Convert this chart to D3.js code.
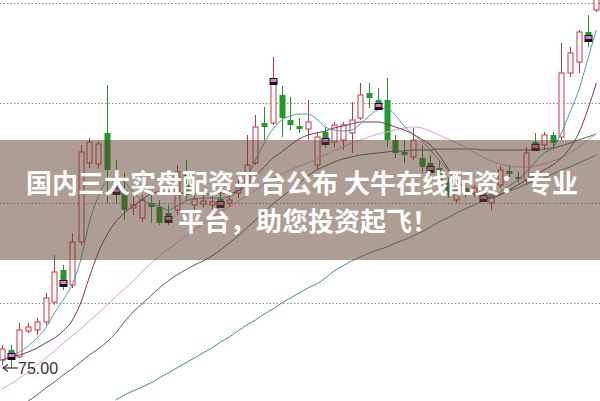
<!DOCTYPE html>
<html><head><meta charset="utf-8">
<script src="https://cdn.jsdelivr.net/npm/d3@7"></script>
<style>html,body{margin:0;padding:0;background:#fff;overflow:hidden}</style>
</head><body><svg id="c" width="600" height="401"></svg>
<script>
// ---- data (prices) ----
const openP  = [75.8,76.8,76.1,78.7,78.8,79.6,81.6,84.8,83.3,87.6,95.5,95.4,98.5,93.3,92.8,91.0,90.0,91.5,91.1,90.5,90.8,94.3,91.3,91.4,91.3,91.9,91.5,92.5,93.3,95.5,99.5,99.5,102.3,99.8,99.2,98.9,95.3,98.6,97.6,97.8,98.5,100.0,102.5,101.8,101.8,97.8,96.6,96.1,96.0,95.5,95.0,93.6,91.8,93.0,92.5,92.5,91.5,93.3,94.7,94.1,93.8,97.6,97.3,98.3,98.1,104.5,105.6,108.6,110.8];
const highP  = [77.3,77.3,79.5,79.5,80.0,82.5,86.3,85.3,88.5,97.3,98.0,97.7,103.3,95.8,94.5,92.1,92.3,92.3,91.8,91.3,95.3,95.8,92.3,92.5,92.3,92.6,92.8,93.8,98.3,100.3,101.1,106.1,103.2,102.1,100.0,101.8,98.6,99.1,99.6,99.6,101.6,103.5,103.5,103.0,104.0,98.3,97.8,99.0,97.3,96.3,95.8,94.1,93.1,93.5,93.3,92.8,92.8,95.2,95.3,94.6,97.1,98.5,98.6,98.6,107.5,107.1,108.8,110.3,113.3];
const lowP   = [75.3,75.0,76.0,78.5,78.3,79.3,81.3,82.8,83.0,87.3,95.0,94.9,91.5,91.5,89.8,90.3,89.6,89.5,89.3,89.3,90.3,91.8,90.8,91.0,90.8,91.1,91.1,92.0,92.8,95.3,97.8,99.3,98.1,98.8,98.5,97.8,94.8,97.0,97.1,96.8,96.5,99.8,101.0,101.0,97.1,96.0,95.5,95.8,94.5,94.3,93.3,92.0,91.5,92.0,92.1,91.6,90.8,93.0,94.1,93.5,93.3,96.8,96.8,96.8,97.8,104.1,104.5,107.1,110.6];
const closeP = [76.9,76.3,78.8,79.1,79.6,82.0,84.6,83.6,87.6,96.6,97.6,97.4,94.8,92.8,90.8,91.3,91.8,91.1,89.5,90.0,94.6,92.3,91.9,91.7,91.6,91.5,91.8,93.3,95.3,99.1,99.1,103.8,100.0,99.3,98.9,99.6,98.1,97.8,99.3,99.3,99.8,102.3,102.0,101.3,97.8,96.5,96.3,97.8,95.1,95.0,93.8,92.3,92.8,92.6,93.0,92.1,92.3,94.8,94.4,93.9,96.5,97.2,98.3,97.5,104.5,106.5,108.6,108.1,112.3];
const markerIdx = [1,7,13,19,25,31,37,43,49,55,61,67];

const ma5  = [75.6,76.2,76.6,77.2,78.0,79.0,80.5,81.8,83.3,85.8,89.6,92.1,93.7,94.1,93.6,92.6,91.8,91.4,91.2,90.8,91.2,91.7,91.9,92.0,92.0,92.0,92.1,92.8,94.0,95.8,97.5,98.9,99.8,100.2,100.4,100.4,99.9,99.1,98.8,98.7,98.8,99.4,100.2,100.8,101.0,100.3,99.2,98.4,97.7,96.8,95.8,94.8,93.8,93.1,92.6,92.3,92.2,92.6,93.2,93.8,94.6,95.6,96.5,97.0,98.5,100.6,102.8,105.8,108.8];
const ma10 = [75.8,76.1,76.3,76.6,77.0,77.5,78.0,78.7,79.7,81.5,84.1,86.5,88.3,89.6,90.5,91.2,91.8,92.4,92.6,92.6,92.5,92.5,92.4,92.4,92.4,92.5,92.5,92.7,93.3,94.2,95.1,96.0,96.6,97.3,97.9,98.3,98.5,98.7,99.0,99.2,99.4,99.6,99.6,99.6,99.4,99.1,98.8,98.4,97.9,97.3,96.3,95.0,93.8,92.9,92.4,92.1,92.0,92.3,92.8,93.3,93.8,94.3,94.8,95.3,96.0,97.0,98.5,100.8,103.5];
const ma20 = [72.9,73.4,74.0,74.6,75.3,76.0,76.7,77.5,78.2,78.9,79.7,80.5,81.3,82.1,82.9,83.7,84.6,85.4,86.2,86.9,87.5,88.2,88.8,89.4,90.0,90.6,91.1,91.7,92.2,92.8,93.4,94.0,94.4,94.8,95.2,95.5,95.9,96.3,96.7,97.1,97.5,97.8,98.1,98.4,98.6,98.8,99.0,99.1,99.0,98.7,98.3,97.9,97.5,97.1,96.6,96.1,95.7,95.4,95.2,95.1,95.1,95.2,95.4,95.7,96.0,96.5,97.1,97.8,98.4];
const ma30 = [null,null,null,71.7,72.3,73.0,73.6,74.3,74.9,75.6,76.3,76.9,77.6,78.5,79.6,80.6,81.4,82.2,83.0,83.7,84.3,84.8,85.3,85.7,86.2,86.8,87.5,88.2,89.0,89.8,90.6,91.4,92.1,92.8,93.5,94.2,94.8,95.2,95.6,95.9,96.1,96.3,96.4,96.5,96.6,96.7,96.7,96.8,96.8,96.8,96.9,96.9,96.9,96.9,96.9,96.8,96.8,96.8,96.8,96.8,96.8,96.8,96.9,97.0,97.2,97.5,97.8,98.1,98.4];
const ma60 = [null,null,null,null,null,null,null,null,null,null,null,null,null,71.8,72.3,72.7,73.1,73.5,74.0,74.5,75.0,75.5,76.0,76.5,77.0,77.6,78.1,78.7,79.3,79.8,80.4,80.9,81.5,82.0,82.5,83.0,83.4,84.0,84.7,85.2,85.7,86.1,86.5,86.8,87.1,87.5,87.8,88.2,88.6,89.1,89.6,90.0,90.5,90.9,91.3,91.7,92.1,92.4,92.7,93.0,93.4,93.7,94.0,94.4,94.8,95.1,95.5,95.9,96.3];

const gridTicks = [81.5, 91.5, 101.5, 111.5];
const lowLabel = "75.00";
const titleLines = ["国内三大实盘配资平台公布 大牛在线配资：专业", "平台，助您投资起飞！"];

// ---- drawing ----
const svg = d3.select("#c");
const n = openP.length;
const x = d3.scaleLinear().domain([0, n - 1]).range([2, 596.3]);
const y = d3.scaleLinear().domain([75, 111.8]).range([368, 0]);
const RED = "#d0333f", GREEN = "#1f9a2c";

svg.append("rect").attr("width", 600).attr("height", 401).attr("fill", "#fff");

svg.append("g").selectAll("line").data(gridTicks).join("line")
  .attr("x1", 0).attr("x2", 600)
  .attr("y1", d => Math.round(y(d)) + 0.5).attr("y2", d => Math.round(y(d)) + 0.5)
  .attr("stroke", "#8a8a8a").attr("stroke-width", 1).attr("stroke-dasharray", "1.5,2");

const candles = d3.range(n).map(i => ({i, o: openP[i], h: highP[i], l: lowP[i], c: closeP[i], up: closeP[i] >= openP[i]}));
const gC = svg.append("g");
const bw = 5;
candles.forEach(d => {
  const cx = Math.round(x(d.i)) + 0.5;
  const col = d.up ? RED : GREEN;
  const top = y(Math.max(d.o, d.c)), bot = y(Math.min(d.o, d.c));
  gC.append("line").attr("x1", cx).attr("x2", cx).attr("y1", y(d.h)).attr("y2", top).attr("stroke", col).attr("stroke-width", 1);
  gC.append("line").attr("x1", cx).attr("x2", cx).attr("y1", bot).attr("y2", y(d.l)).attr("stroke", col).attr("stroke-width", 1);
  const hgt = Math.max(1, bot - top);
  if (d.up) {
    gC.append("rect").attr("x", cx - bw / 2).attr("y", top).attr("width", bw).attr("height", hgt)
      .attr("fill", "#fff").attr("stroke", col).attr("stroke-width", 1);
  } else {
    gC.append("rect").attr("x", cx - bw / 2 - 0.5).attr("y", top).attr("width", bw + 1).attr("height", hgt)
      .attr("fill", col);
  }
});

const maDefs = [
  {v: ma60, col: "#3d8c99"},
  {v: ma30, col: "#4a6b4a"},
  {v: ma20, col: "#e29ae0"},
  {v: ma10, col: "#7f2f62"},
  {v: ma5,  col: "#3fa3a6"}
];
const line = d3.line().defined(d => d[1] != null).x(d => x(d[0])).y(d => y(d[1])).curve(d3.curveMonotoneX);
maDefs.forEach(m => {
  svg.append("path").attr("d", line(m.v.map((v, i) => [i, v])))
    .attr("fill", "none").attr("stroke", m.col).attr("stroke-width", 1);
});

const gM = svg.append("g");
markerIdx.forEach(i => {
  const cx = Math.round(x(i)) + 0.5;
  const cy = y(closeP[i]);
  gM.append("rect").attr("x", cx - 4).attr("y", cy - 2).attr("width", 8).attr("height", 7).attr("fill", "#111");
  gM.append("rect").attr("x", cx - 3).attr("y", cy - 1).attr("width", 6).attr("height", 3).attr("fill", "#e07ad8");
});

const lowIdx = d3.minIndex(lowP);
const ly = y(lowP[lowIdx]);
svg.append("line").attr("x1", 3).attr("x2", 18).attr("y1", ly).attr("y2", ly).attr("stroke", "#333").attr("stroke-width", 1.2);
svg.append("path").attr("d", `M8,${ly - 3.5} L3,${ly} L8,${ly + 3.5}`).attr("fill", "none").attr("stroke", "#333").attr("stroke-width", 1.2);
svg.append("text").attr("x", 18).attr("y", ly + 5.5).text(lowLabel)
  .attr("font-family", "Liberation Sans, Arial, sans-serif").attr("font-size", 16).attr("fill", "#333");

svg.append("rect").attr("x", 0).attr("y", 140).attr("width", 600).attr("height", 120)
  .attr("fill", "rgb(98,68,50)").attr("fill-opacity", 0.52);

svg.append("g").selectAll("text").data(titleLines).join("text")
  .attr("x", (d, i) => i === 0 ? 26 : 178)
  .attr("y", (d, i) => i === 0 ? 193 : 231)
  .attr("font-family", "Noto Sans CJK SC, sans-serif").attr("font-weight", "bold").attr("font-size", 26)
  .attr("fill", "#fff").text(d => d);
</script></body></html>
